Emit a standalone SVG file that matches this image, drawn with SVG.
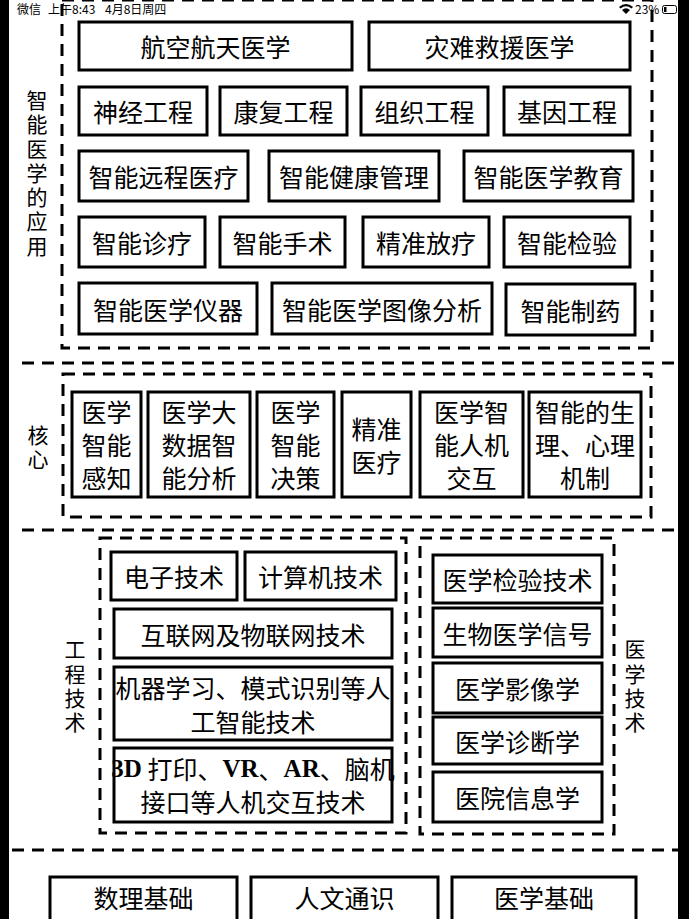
<svg xmlns="http://www.w3.org/2000/svg" width="689" height="919" viewBox="0 0 689 919">
<style>
.box{fill:#fff;stroke:#000;stroke-width:3}
.dash{fill:none;stroke:#000;stroke-width:3;stroke-dasharray:12 8}
.t{font-family:"Noto Sans CJK SC","Noto Sans CJK TC",sans-serif;font-size:25px;text-anchor:middle;dominant-baseline:central;fill:#000}
.lab{font-family:"Noto Sans CJK SC",sans-serif;font-size:21px;text-anchor:middle;writing-mode:vertical-rl;letter-spacing:3.3px;fill:#000}
.sb{font-family:"Noto Sans CJK SC","Liberation Sans",sans-serif;font-size:12px;fill:#000}
.lat{font-family:"Liberation Serif",serif;font-weight:bold}
</style>
<rect x="0" y="0" width="689" height="919" fill="#fff"/>
<g id="frames">
<rect class="dash" x="62" y="0" width="590" height="348"/>
<rect class="dash" x="63" y="374" width="588" height="143"/>
<rect class="dash" x="100" y="538" width="306" height="295"/>
<rect class="dash" x="420" y="538" width="194" height="296"/>
<line class="dash" x1="22" y1="363" x2="678" y2="363"/>
<line class="dash" x1="22" y1="530" x2="678" y2="530"/>
<line class="dash" x1="12" y1="850" x2="678" y2="850"/>
</g>
<g id="labels">
<text class="lab" x="37" y="174.5">智能医学的应用</text>
<text class="lab" x="38" y="448.5">核心</text>
<text class="lab" x="75" y="687.5">工程技术</text>
<text class="lab" x="635" y="687.5">医学技术</text>
</g>
<g id="app">
<g id="n1"><rect class="box" x="79" y="22" width="273" height="48"/><text class="t" x="215.5" y="46">航空航天医学</text></g>
<g id="n2"><rect class="box" x="369" y="22" width="261" height="48"/><text class="t" x="499.5" y="46">灾难救援医学</text></g>
<g id="n3"><rect class="box" x="79" y="87" width="128" height="48"/><text class="t" x="143" y="111">神经工程</text></g>
<g id="n4"><rect class="box" x="220" y="87" width="127" height="48"/><text class="t" x="283.5" y="111">康复工程</text></g>
<g id="n5"><rect class="box" x="361" y="87" width="127" height="48"/><text class="t" x="424.5" y="111">组织工程</text></g>
<g id="n6"><rect class="box" x="504" y="87" width="126" height="48"/><text class="t" x="567" y="111">基因工程</text></g>
<g id="n7"><rect class="box" x="79" y="151" width="169" height="50"/><text class="t" x="163.5" y="176">智能远程医疗</text></g>
<g id="n8"><rect class="box" x="269" y="151" width="170" height="50"/><text class="t" x="354" y="176">智能健康管理</text></g>
<g id="n9"><rect class="box" x="464" y="151" width="169" height="50"/><text class="t" x="548.5" y="176">智能医学教育</text></g>
<g id="n10"><rect class="box" x="79" y="217" width="126" height="50"/><text class="t" x="142" y="242">智能诊疗</text></g>
<g id="n11"><rect class="box" x="220" y="217" width="125" height="50"/><text class="t" x="282.5" y="242">智能手术</text></g>
<g id="n12"><rect class="box" x="363" y="217" width="126" height="50"/><text class="t" x="426" y="242">精准放疗</text></g>
<g id="n13"><rect class="box" x="504" y="217" width="126" height="50"/><text class="t" x="567" y="242">智能检验</text></g>
<g id="n14"><rect class="box" x="79" y="283" width="178" height="51"/><text class="t" x="168" y="308.5">智能医学仪器</text></g>
<g id="n15"><rect class="box" x="272" y="283" width="220" height="51"/><text class="t" x="382" y="308.5">智能医学图像分析</text></g>
<g id="n16"><rect class="box" x="506" y="284" width="129" height="51"/><text class="t" x="570.5" y="309.5">智能制药</text></g>
</g>
<g id="core">
<g id="c1"><rect class="box" x="72" y="392" width="69" height="105"/><text class="t"><tspan x="106.5" y="411">医学</tspan><tspan x="106.5" y="444">智能</tspan><tspan x="106.5" y="477">感知</tspan></text></g>
<g id="c2"><rect class="box" x="148" y="392" width="102" height="105"/><text class="t"><tspan x="199" y="411">医学大</tspan><tspan x="199" y="444">数据智</tspan><tspan x="199" y="477">能分析</tspan></text></g>
<g id="c3"><rect class="box" x="257" y="392" width="77" height="105"/><text class="t"><tspan x="295.5" y="411">医学</tspan><tspan x="295.5" y="444">智能</tspan><tspan x="295.5" y="477">决策</tspan></text></g>
<g id="c4"><rect class="box" x="342" y="392" width="69" height="105"/><text class="t"><tspan x="376.5" y="428">精准</tspan><tspan x="376.5" y="461">医疗</tspan></text></g>
<g id="c5"><rect class="box" x="420" y="392" width="103" height="105"/><text class="t"><tspan x="471.5" y="411">医学智</tspan><tspan x="471.5" y="444">能人机</tspan><tspan x="471.5" y="477">交互</tspan></text></g>
<g id="c6"><rect class="box" x="529" y="392" width="112" height="105"/><text class="t"><tspan x="585" y="411">智能的生</tspan><tspan x="585" y="444">理、心理</tspan><tspan x="585" y="477">机制</tspan></text></g>
</g>
<g id="eng">
<g id="e1"><rect class="box" x="111" y="552" width="126" height="48"/><text class="t" x="174" y="576">电子技术</text></g>
<g id="e2"><rect class="box" x="245" y="552" width="151" height="48"/><text class="t" x="320.5" y="576">计算机技术</text></g>
<g id="e3"><rect class="box" x="114" y="609" width="278" height="49"/><text class="t" x="253" y="633.5">互联网及物联网技术</text></g>
<g id="e4"><rect class="box" x="114" y="667" width="278" height="73"/><text class="t"><tspan x="253" y="687">机器学习、模式识别等人</tspan><tspan x="253" y="721">工智能技术</tspan></text></g>
<g id="e5"><rect class="box" x="114" y="748" width="278" height="74"/><text class="t"><tspan x="253" y="768"><tspan class="lat">3D</tspan> 打印、<tspan class="lat">VR</tspan>、<tspan class="lat">AR</tspan>、脑机</tspan><tspan x="253" y="801">接口等人机交互技术</tspan></text></g>
</g>
<g id="med">
<g id="m1"><rect class="box" x="433" y="555" width="169" height="48"/><text class="t" x="517.5" y="579">医学检验技术</text></g>
<g id="m2"><rect class="box" x="433" y="608" width="169" height="49"/><text class="t" x="517.5" y="632.5">生物医学信号</text></g>
<g id="m3"><rect class="box" x="433" y="663" width="169" height="50"/><text class="t" x="517.5" y="688">医学影像学</text></g>
<g id="m4"><rect class="box" x="433" y="717" width="169" height="47"/><text class="t" x="517.5" y="740.5">医学诊断学</text></g>
<g id="m5"><rect class="box" x="433" y="772" width="169" height="50"/><text class="t" x="517.5" y="797">医院信息学</text></g>
</g>
<g id="base">
<g id="b1"><rect class="box" x="50" y="877" width="187" height="60"/><text class="t" x="143.5" y="897">数理基础</text></g>
<g id="b2"><rect class="box" x="251" y="877" width="187" height="60"/><text class="t" x="344.5" y="897">人文通识</text></g>
<g id="b3"><rect class="box" x="452" y="877" width="184" height="60"/><text class="t" x="544" y="897">医学基础</text></g>
</g>
<g id="connectors"/>
<g id="statusbar">
<text class="sb" x="17" y="14">微信</text>
<text class="sb" x="48" y="14">上午8:43</text>
<text class="sb" x="105" y="14">4月8日周四</text>
<path d="M619 7 Q626 1 633 7 L631.5 8.5 Q626 4 620.5 8.5 Z M622 10 Q626 6.5 630 10 L626 14 Z" fill="#000"/>
<text class="sb" x="635" y="14">23%</text>
<rect x="662.5" y="5.5" width="14" height="8" rx="2" fill="none" stroke="#000" stroke-width="1"/>
<rect x="664" y="7" width="2.5" height="5" fill="#000"/>
</g>
<rect x="0" y="0" width="9" height="919" fill="#000"/>
<rect x="678" y="0" width="11" height="919" fill="#000"/>
</svg>
